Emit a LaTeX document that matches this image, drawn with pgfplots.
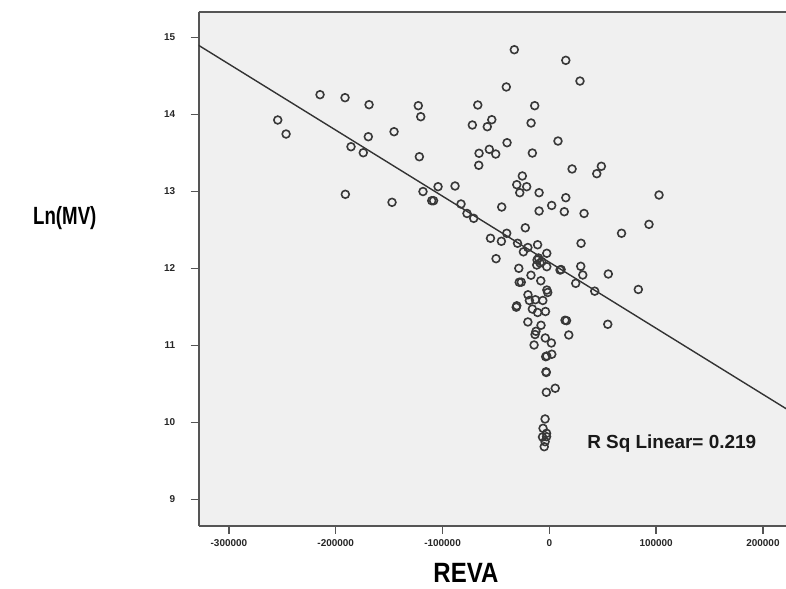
\documentclass[border=0pt]{standalone}
\usepackage{fontspec}
\setmainfont{Liberation Sans}
\usepackage{pgfplots}
\pgfplotsset{compat=1.18}
\definecolor{bgc}{HTML}{F0F0F0}
\definecolor{axc}{HTML}{555555}
\definecolor{mkc}{HTML}{383838}
\begin{document}
\begin{tikzpicture}[x=1bp,y=1bp]
\path[use as bounding box] (0,0) rectangle (786,589);
\begin{axis}[
 at={(198.7bp,63.3bp)}, anchor=south west,
 scale only axis, width=587.3bp, height=513.7bp,
 xmin=-328300, xmax=221600, ymin=8.657, ymax=15.329,
 axis background/.style={fill=bgc},
 axis x line=box, axis y line=left,
 axis line style={-, draw=axc, line width=2bp},
 xtick pos=left, ytick pos=left, tick align=outside,
 xtick={-300000,-200000,-100000,0,100000,200000},
 xticklabels={-300000,-200000,-100000,0,100000,200000},
 ytick={9,10,11,12,13,14,15},
 tick style={draw=axc, line width=1.5bp},
 major tick length=8bp,
 ticklabel style={font=\bfseries\fontsize{10}{12}\selectfont, text=black!85},
 xticklabel style={yshift=-2bp},
 yticklabel style={xshift=-12bp},
 /pgf/number format/assume math mode=true,
 scaled x ticks=false,
 xlabel={\scalebox{0.86}[1]{REVA}},
 xlabel style={at={(axis description cs:0.455,-0.092)}, anchor=center, font=\bfseries\fontsize{28}{32}\selectfont},
 ylabel={\scalebox{0.75}[1]{Ln(MV)}},
 ylabel style={at={(axis description cs:-0.228,0.599)}, anchor=center, rotate=-90, font=\bfseries\fontsize{25}{29}\selectfont},
]
\addplot[only marks, mark=o, mark size=3.9bp, mark options={draw=mkc, line width=1.6bp}] table {
x y
-254300 13.926
-246500 13.744
-214700 14.255
-191300 14.216
-168800 14.125
-185700 13.579
-174200 13.501
-169500 13.709
-145400 13.774
-191000 12.961
-147300 12.857
-122700 14.112
-120400 13.969
-121700 13.449
-118300 12.997
-110100 12.878
-108400 12.878
-104200 13.060
-88300 13.069
-82700 12.835
-77100 12.712
-70800 12.649
-32800 14.839
-40300 14.355
-67000 14.121
-13700 14.112
-53900 13.930
-72100 13.861
-58100 13.839
-17100 13.887
8100 13.653
-39600 13.631
-65800 13.494
-56200 13.545
-50200 13.484
-15900 13.497
-66100 13.338
-25300 13.199
-30500 13.086
-21200 13.060
-27700 12.982
-9600 12.982
2200 12.816
-44600 12.796
-9600 12.744
15400 14.701
28700 14.432
21300 13.290
48700 13.325
44400 13.229
102700 12.952
15400 12.917
14000 12.735
32500 12.712
93300 12.571
67600 12.455
29700 12.325
29400 12.026
31300 11.913
55200 11.926
24700 11.805
42500 11.703
83300 11.725
11000 11.984
14700 11.325
16100 11.320
54700 11.273
18200 11.134
-22500 12.526
-55100 12.390
-44900 12.351
-39900 12.455
-29800 12.325
-20100 12.270
-11000 12.306
-24300 12.214
-2400 12.195
-49900 12.125
-11500 12.108
-10100 12.134
-8700 12.069
-11800 12.043
-7100 12.086
-2400 12.021
10000 11.978
-28600 12.000
-17200 11.910
-8000 11.838
-28200 11.819
-26300 11.820
-2300 11.718
-1500 11.686
-20000 11.656
-18700 11.582
-13100 11.592
-6100 11.582
-30500 11.513
-31000 11.495
-15900 11.471
-11000 11.426
-3600 11.439
-20100 11.303
-7800 11.260
-12500 11.182
-13400 11.140
-14300 11.004
-3800 11.095
1900 11.030
-2400 10.861
-3400 10.852
2300 10.884
-3100 10.656
-2900 10.647
-2800 10.390
5500 10.442
-4000 10.043
-5900 9.922
-2600 9.857
-6400 9.809
-2600 9.813
-4000 9.748
-4800 9.683
};
\addplot[draw=black!80, line width=1.4bp] coordinates {(-330000,14.91) (222000,10.174)};
\node[font=\bfseries\fontsize{19}{22}\selectfont, text=black!90] at (axis cs:114600,9.727) {R Sq Linear= 0.219};
\end{axis}
\end{tikzpicture}
\end{document}
